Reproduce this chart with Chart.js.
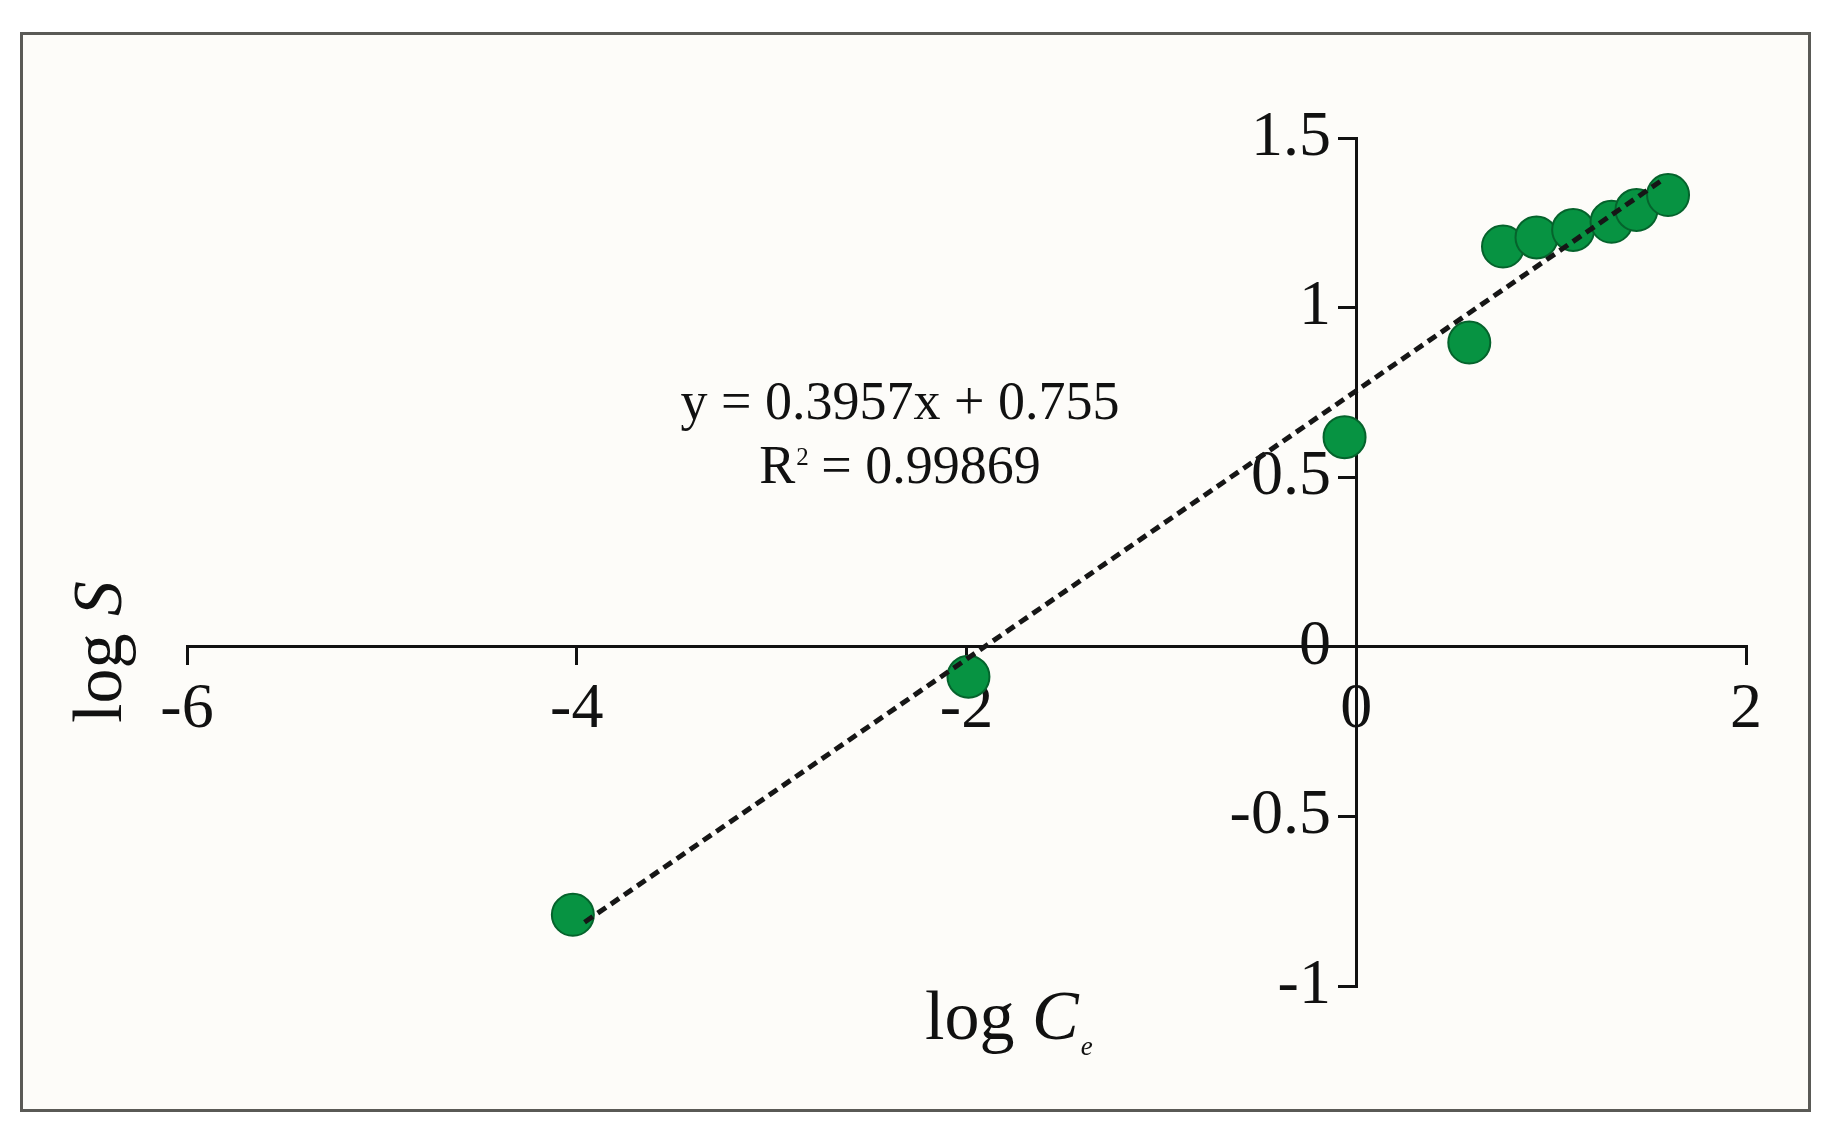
<!DOCTYPE html>
<html>
<head>
<meta charset="utf-8">
<script src="https://cdn.jsdelivr.net/npm/chart.js@4/dist/chart.umd.min.js"></script>
<style>
  html, body { margin:0; padding:0; background:#fff; }
  #wrap { width:1836px; height:1143px; }
</style>
</head>
<body>
<div id="wrap"><canvas id="chart" width="1836" height="1143"></canvas></div>
<script>
// log Ce vs log S
const logCe = [-4.02, -1.99, -0.06, 0.58, 0.753, 0.925, 1.113, 1.31, 1.438, 1.60];
const logS  = [-0.79, -0.088, 0.618, 0.897, 1.18, 1.207, 1.229, 1.253, 1.288, 1.332];

// ends of the dashed fit line
const fitX = [-3.96, 1.575];
const fitY = [-0.812, 1.378];

const xTicks = [-6, -4, -2, 0, 2];
const yTicks = [-1, -0.5, 0, 0.5, 1, 1.5];

const eqLine = "y = 0.3957x + 0.755";
const r2Value = "0.99869";

const SERIF = "'Liberation Serif', 'Times New Roman', serif";
const INK = "#111";

const decor = {
  id:"decor",
  beforeDraw(chart) {
    const ctx = chart.ctx;
    ctx.save();
    ctx.fillStyle = "#fff";
    ctx.fillRect(0, 0, chart.width, chart.height);
    ctx.fillStyle = "#fdfcf9";
    ctx.fillRect(21, 33, 1789, 1078);
    ctx.strokeStyle = "#5a5a56";
    ctx.lineWidth = 3;
    ctx.strokeRect(21.5, 33.5, 1788, 1077);
    ctx.restore();
  },
  afterDraw(chart) {
    const ctx = chart.ctx;
    ctx.save();
    ctx.fillStyle = INK;
    ctx.textBaseline = "alphabetic";

    // equation
    ctx.font = "54px " + SERIF;
    ctx.textAlign = "center";
    ctx.fillText(eqLine, 900, 419);

    ctx.textAlign = "left";
    const rest = " = " + r2Value;
    ctx.font = "54px " + SERIF;
    const wR = ctx.measureText("R").width;
    const wRest = ctx.measureText(rest).width;
    ctx.font = "25px " + SERIF;
    const wSup = ctx.measureText("2").width;
    let x = 900 - (wR + wSup + wRest) / 2;
    ctx.font = "54px " + SERIF;
    ctx.fillText("R", x, 483);
    ctx.font = "25px " + SERIF;
    ctx.fillText("2", x + wR + 1, 465);
    ctx.font = "54px " + SERIF;
    ctx.fillText(rest, x + wR + wSup, 483);

    // x title: log Ce
    ctx.font = "70px " + SERIF;
    ctx.fillText("log ", 925, 1039);
    let cx = 925 + ctx.measureText("log ").width;
    ctx.font = "italic 70px " + SERIF;
    ctx.fillText("C", cx, 1039);
    cx += ctx.measureText("C").width;
    ctx.font = "italic 27px " + SERIF;
    ctx.fillText("e", cx + 2, 1055);

    // y title: log S
    ctx.translate(121, 652);
    ctx.rotate(-Math.PI / 2);
    ctx.font = "70px " + SERIF;
    const wLog = ctx.measureText("log ").width;
    ctx.font = "italic 70px " + SERIF;
    const wS = ctx.measureText("S").width;
    const sx = -(wLog + wS) / 2;
    ctx.font = "70px " + SERIF;
    ctx.fillText("log ", sx, 0);
    ctx.font = "italic 70px " + SERIF;
    ctx.fillText("S", sx + wLog, 0);

    ctx.restore();
  }
};

const tickFont = { family:SERIF, size:64 };

new Chart(document.getElementById("chart"), {
  type:"scatter",
  data:{
    datasets:[
      {
        data:fitX.map((v, i) => ({ x:v, y:fitY[i] })),
        showLine:true,
        borderColor:"#161616",
        borderWidth:5,
        borderDash:[10, 6],
        pointRadius:0,
        fill:false
      },
      {
        data:logCe.map((v, i) => ({ x:v, y:logS[i] })),
        backgroundColor:"#079342",
        borderColor:"#05632c",
        borderWidth:2,
        pointRadius:21,
        pointHoverRadius:21
      }
    ]
  },
  options:{
    responsive:false,
    animation:false,
    layout:{ padding:{ left:187, right:90, top:138, bottom:157 } },
    plugins:{
      legend:{ display:false },
      tooltip:{ enabled:false }
    },
    scales:{
      x:{
        type:"linear",
        min:-6, max:2,
        position:{ y:0 },
        afterBuildTicks:s => { s.ticks = xTicks.map(v => ({ value:v })); },
        afterFit:s => { s.height = 0; },
        grid:{ drawOnChartArea:false, drawTicks:true, tickLength:17, color:INK, lineWidth:3 },
        border:{ display:true, color:INK, width:3 },
        ticks:{ color:INK, padding:8, maxRotation:0, font:tickFont, callback:v => String(v) }
      },
      // axis line and tick marks
      y:{
        type:"linear",
        min:-1, max:1.5,
        position:{ x:0 },
        afterBuildTicks:s => { s.ticks = yTicks.map(v => ({ value:v })); },
        afterFit:s => { s.width = 0; },
        grid:{ drawOnChartArea:false, drawTicks:true, tickLength:17, color:INK, lineWidth:3 },
        border:{ display:true, color:INK, width:3 },
        ticks:{ display:false }
      },
      // tick labels, set just left of the tick marks
      yLabels:{
        type:"linear",
        axis:"y",
        min:-1, max:1.5,
        position:{ x:-0.13 },
        afterBuildTicks:s => { s.ticks = yTicks.map(v => ({ value:v })); },
        afterFit:s => { s.width = 0; },
        grid:{ display:false },
        border:{ display:false },
        ticks:{ color:INK, font:tickFont, callback:v => String(v) }
      }
    }
  },
  plugins:[decor]
});
</script>
</body>
</html>
